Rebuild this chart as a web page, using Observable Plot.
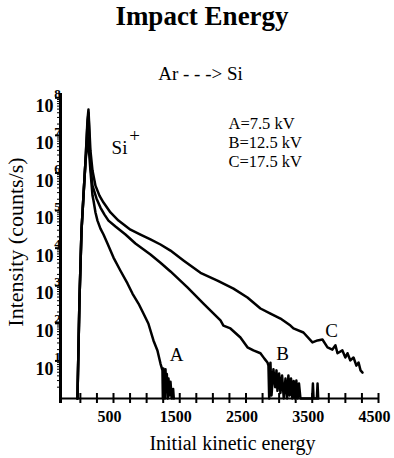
<!DOCTYPE html>
<html><head><meta charset="utf-8">
<script src="https://cdn.jsdelivr.net/npm/d3@7"></script>
<script src="https://cdn.jsdelivr.net/npm/@observablehq/plot@0.6"></script>
<style>
body{margin:0;background:#fff;width:394px;height:458px;overflow:hidden}
#title{font-family:"Liberation Serif",serif;font-weight:bold;font-size:27px;text-align:center;height:32px;line-height:32px;padding-left:10px;color:#000}
</style></head><body>
<div id="title">Impact Energy</div>
<div id="chart"></div>
<script>
// Series A (7.5 kV)
const energyA = [-44,-14,17,47,77,115,152,183,198,228,258,303,349,409,500,605,711,786,877,952,1026,1103,1163,1209,1239,1245,1252,1260,1268,1275,1285,1295,1305,1318,1330,1345,1360,1380,1400,1410];
const intensityA = [1,405,2.9e4,2.5e5,2e6,8.7e6,1.16e6,2.5e5,1.85e5,8.9e4,5.4e4,3.3e4,2.3e4,1.33e4,5.6e3,2.5e3,1150,620,336,182,99,35,19,8.5,5.6,1,6.3,1.3,5.0,1,6.0,1.5,4.5,1,3.4,1.2,2.8,1,1.8,1];
// Series B (12.5 kV)
const energyB = [-44,-14,17,47,77,107,122,152,183,243,303,364,424,530,681,831,1058,1209,1360,1616,1858,2115,2159,2265,2416,2522,2612,2718,2778,2824,2839,2850,2869,2885,2914,2940,2960,2975,3000,3020,3045,3070,3096,3120,3140,3160,3180,3200,3220,3240,3260,3280,3300,3322,3500,3510,3520,3570,3580,3590];
const intensityB = [1,405,2.9e4,2.5e5,2e6,2e7,4e7,1.57e6,4.6e5,2.1e5,1.2e5,7.8e4,5.4e4,3.75e4,2.3e4,1.33e4,6.8e3,4.1e3,2.4e3,900,336,119,87,73,42,23,19,16,11.5,9.1,7.5,1,9,1.2,6,2,5.6,1.6,4.6,1.4,4.1,1,3.4,1,4.1,1.2,3.4,1,2.9,1,3.0,1,2.5,1,1,2.5,1,1,2.5,1];
// Series C (17.5 kV)
const energyC = [-44,-14,17,47,77,107,122,152,183,228,288,349,454,575,756,907,1058,1209,1360,1556,1813,2069,2311,2522,2718,2869,3020,3171,3216,3367,3503,3579,3654,3730,3804,3850,3881,3955,4000,4032,4075,4123,4166,4199,4229,4259];
const intensityC = [1,405,2.9e4,2.5e5,2e6,2.5e7,4.85e7,3.9e6,1.16e6,4.6e5,2.5e5,1.63e5,8.9e4,5.4e4,3.1e4,2.3e4,1.7e4,1.25e4,8.6e3,4.7e3,2.2e3,1.37e3,840,485,248,182,134,87,73,57,31,35,37,23,20,26,16,19,12.3,16,10.3,12.3,7.5,9.1,5.6,4.9];

const seriesNames = ["A","B","C"];
const xTickValues = d3.range(0, 4501, 250);
const xTickLabels = [500,1500,2500,3500,4500];
const yExponents = [1,2,3,4,5,6,7,8];
const yMajor = yExponents.map(k => 10 ** k);
const yMinor = [];
for (let k = 0; k < 8; k++) for (let m = 2; m <= 9; m++) yMinor.push(m * 10 ** k);

const rows = [];
[[energyA, intensityA], [energyB, intensityB], [energyC, intensityC]].forEach(([E, I], s) => {
  E.forEach((e, i) => rows.push({series: seriesNames[s], energy: e, intensity: I[i]}));
});

const serif = "Liberation Serif";
const note = (str, dx, dy, size, anchor = "middle") =>
  Plot.text([str], {frameAnchor: "top-left", text: d => d, textAnchor: anchor, lineAnchor: "middle", dx, dy, fontSize: size, fill: "black"});

const chart = Plot.plot({
  width: 394, height: 426,
  marginTop: 61, marginBottom: 60, marginLeft: 60, marginRight: 16,
  x: {domain: [-300, 4500], axis: null},
  y: {type: "log", domain: [1, 1.3e8], axis: null},
  style: {fontFamily: serif, background: "white", color: "black"},
  marks: [
    Plot.line(rows, {x: "energy", y: "intensity", z: "series", stroke: "black", strokeWidth: 2.5}),
    Plot.ruleY([1], {stroke: "black", strokeWidth: 2}),
    Plot.ruleX([-300], {y1: 0.736, y2: 1.3e8, stroke: "black", strokeWidth: 3}),
    Plot.ruleX(xTickValues, {x: d => d, y1: 0.736, y2: 1.36, stroke: "black", strokeWidth: 2}),
    Plot.axisY({ticks: yMinor, tickSize: 3, tickFormat: () => "", label: null, anchor: "left"}),
    Plot.axisY({ticks: yMajor, tickSize: 5, tickFormat: () => "", label: null, anchor: "left", strokeWidth: 2}),
    Plot.text(yMajor, {y: d => d, frameAnchor: "left", text: () => "10", textAnchor: "end", lineAnchor: "middle", dx: -7, dy: 8, fontSize: 18, fontWeight: "bold", fill: "black"}),
    Plot.text(yExponents, {y: (k) => 10 ** k, frameAnchor: "left", text: k => String(k), textAnchor: "middle", lineAnchor: "middle", dx: -3, dy: -4, fontSize: 13, fontWeight: "bold", fill: "black"}),
    Plot.text(xTickLabels, {x: d => d, frameAnchor: "bottom", text: d => String(d), textAnchor: "middle", lineAnchor: "middle", dy: 18, dx: -4, fontSize: 16, fontWeight: "bold", fill: "black"}),
    Plot.text(["Initial kinetic energy"], {frameAnchor: "bottom", text: d => d, textAnchor: "middle", lineAnchor: "middle", dx: 13, dy: 45, fontSize: 20, fill: "black"}),
    Plot.text(["Intensity (counts/s)"], {frameAnchor: "left", text: d => d, textAnchor: "middle", lineAnchor: "middle", rotate: -90, dx: -45, dy: -4, fontSize: 22, fill: "black"}),
    note("Ar - - -> Si", 140, -20, 19),
    note("A=7.5 kV", 168, 30.5, 16.5, "start"),
    note("B=12.5 kV", 168, 49.5, 16.5, "start"),
    note("C=17.5 kV", 168, 68.5, 16.5, "start"),
    note("Si", 59, 54, 19),
    note("+", 74, 42, 19),
    note(seriesNames[0], 116, 261, 19),
    note(seriesNames[1], 222, 260, 19),
    note(seriesNames[2], 271, 237, 19)
  ]
});
document.getElementById("chart").appendChild(chart);
</script>
</body></html>
